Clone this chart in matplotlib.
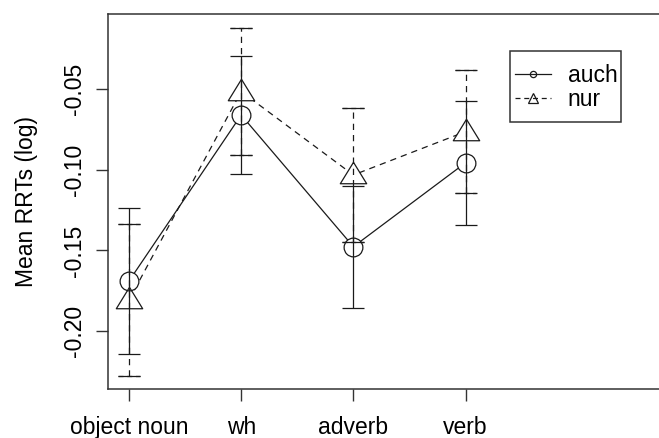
import matplotlib
matplotlib.use("Agg")
import matplotlib.pyplot as plt
from matplotlib.lines import Line2D
from matplotlib.patches import Rectangle

# ---- data ----
categories = ["object noun", "wh", "adverb", "verb"]
x_pos = [1, 2, 3, 4]
auch_mean = [-0.169, -0.066, -0.1477, -0.0956]
auch_err = [0.0455, 0.0368, 0.0379, 0.0386]
nur_mean = [-0.1808, -0.0514, -0.1032, -0.0763]
nur_err = [0.0472, 0.0393, 0.0414, 0.0380]
series_labels = ["auch", "nur"]
y_ticks = [-0.20, -0.15, -0.10, -0.05]
y_ticklabels = ["-0.20", "-0.15", "-0.10", "-0.05"]
y_label = "Mean RRTs (log)"

# ---- style ----
plt.rcParams['font.family'] = ['Liberation Sans', 'DejaVu Sans']
FS = 16.5
INK = "#1a1a1a"
BOX = "#333333"
LW = 0.9

W, H = 659, 438
fig = plt.figure(figsize=(W / 100, H / 100), dpi=100)
ax = fig.add_axes([108 / W, 49 / H, 600 / W, 375 / H])
ax.set_xlim(0.813, 0.813 + 600 / 112.2)
ax.set_ylim(-0.236, -0.0033)

# connecting lines
ax.plot(x_pos, auch_mean, color=INK, lw=LW, ls='-', zorder=2)
ax.plot(x_pos, nur_mean, color=INK, lw=LW, ls=(0, (5, 4)), zorder=2)

# white fills to create gaps like R type="b"
ax.plot(x_pos, auch_mean, ls='none', marker='o', ms=13.5, mfc='white', mec='none', zorder=3)
ax.plot(x_pos, nur_mean, ls='none', marker=[(0, 1.0), (-1.0, -0.625), (1.0, -0.625)],
        ms=19.0, mfc='white', mec='none', zorder=3)

# error bars
eb1 = ax.errorbar(x_pos, auch_mean, yerr=auch_err, fmt='none', ecolor=INK, elinewidth=LW,
                  capsize=7.8, capthick=LW, zorder=4)
eb2 = ax.errorbar(x_pos, nur_mean, yerr=nur_err, fmt='none', ecolor=INK, elinewidth=LW,
                  capsize=7.8, capthick=LW, zorder=4)
for c in eb2[2]:
    c.set_linestyle((0, (5, 4)))
for cap in eb2[1]:
    cap.set_linestyle('none')
# dashed caps for nur
ax.errorbar(x_pos, [m + e for m, e in zip(nur_mean, nur_err)], xerr=0.097, fmt='none',
            ecolor=INK, elinewidth=LW, capsize=0, zorder=4)
ax.errorbar(x_pos, [m - e for m, e in zip(nur_mean, nur_err)], xerr=0.097, fmt='none',
            ecolor=INK, elinewidth=LW, capsize=0, zorder=4)
for coll in ax.collections[-2:]:
    coll.set_linestyle((0, (4, 3)))

# marker outlines
ax.plot(x_pos, auch_mean, ls='none', marker='o', ms=13.5, mfc='none', mec=INK, mew=LW, zorder=5)
ax.plot(x_pos, nur_mean, ls='none', marker=[(0, 1.0), (-1.0, -0.625), (1.0, -0.625), (0, 1.0)],
        ms=19.0, mfc='none', mec=INK, mew=LW, zorder=5)

# axes styling
for s in ax.spines.values():
    s.set_color(BOX)
    s.set_linewidth(1.1)
ax.spines['right'].set_visible(False)
ax.set_xticks(x_pos)
ax.set_xticklabels(categories, fontsize=FS)
ax.set_yticks(y_ticks)
ax.set_yticklabels(y_ticklabels, fontsize=FS, rotation=90, va='center')
ax.tick_params(axis='both', direction='out', length=8.6, width=1.0, color=BOX)
ax.tick_params(axis='x', pad=11)
ax.tick_params(axis='y', pad=7)
ax.set_ylabel(y_label, fontsize=FS)
ax.yaxis.set_label_coords(-0.125 * 557 / 600, 0.5)

# legend
h1 = Line2D([], [], color=INK, lw=LW, ls='-', marker='o', ms=4.5, mfc='none', mec=INK, mew=LW)
h2 = Line2D([], [], color=INK, lw=LW, ls=(0, (4, 3)), marker='^', ms=6.5, mfc='none', mec=INK, mew=LW)
leg = fig.legend([h1, h2], series_labels, loc='upper left',
                 bbox_to_anchor=(515 / W, 1 - 64 / H), frameon=False, fontsize=FS,
                 borderpad=0, borderaxespad=0, handlelength=1.55, handletextpad=0.75,
                 labelspacing=0.05)
fig.patches.append(Rectangle((510 / W, 1 - 121.7 / H), 111 / W, 71 / H, transform=fig.transFigure,
                             fill=False, edgecolor=BOX, lw=1.1))

fig.savefig("out.png", dpi=100)
